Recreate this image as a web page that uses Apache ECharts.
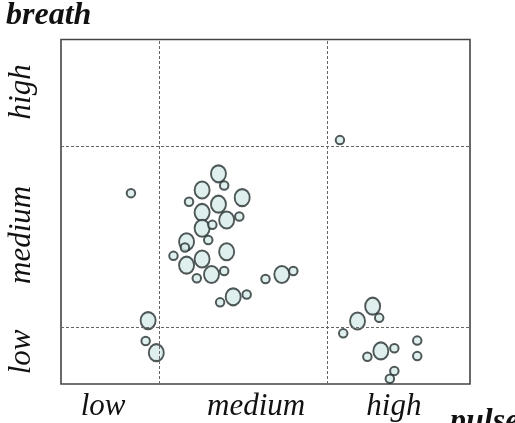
<!DOCTYPE html>
<html>
<head>
<meta charset="utf-8">
<script src="https://cdn.jsdelivr.net/npm/echarts@6/dist/echarts.min.js"></script>
<style>
  html, body { margin: 0; padding: 0; background: #fff; }
  #main { width: 515px; height: 423px; }
</style>
</head>
<body>
<div id="main"></div>
<script>
// scale: 0..100 on both axes, bands split at the cut values
const pulseLabels = ['low', 'medium', 'high'];
const pulseLabelPos = [10.3, 47.7, 81.4];
const pulseCuts = [24.0, 65.2];

const breathLabels = ['low', 'medium', 'high'];
const breathLabelPos = [9.3, 43.3, 84.8];
const breathCuts = [16.6, 69.0];

// big blobs [pulse, breath]
const bigPoints = [
  [38.5, 61.0], [34.5, 56.3], [44.3, 54.1], [38.5, 52.2], [34.5, 49.8],
  [40.5, 47.6], [34.5, 45.2], [30.7, 41.3], [40.5, 38.4], [34.5, 36.3],
  [30.7, 34.5], [36.8, 31.8], [54.0, 31.8], [42.1, 25.3], [21.3, 18.4],
  [23.3, 9.1], [76.2, 22.6], [72.5, 18.3], [78.2, 9.6]
];

// small circles [pulse, breath]
const smallPoints = [
  [39.9, 57.6], [31.3, 52.9], [43.6, 48.6], [37.0, 46.2], [36.0, 41.8],
  [30.3, 39.6], [27.5, 37.2], [39.9, 32.8], [33.2, 30.7], [50.0, 30.5],
  [56.8, 32.8], [45.4, 26.0], [38.9, 23.7], [17.1, 55.4], [68.2, 70.8],
  [20.7, 12.5], [77.8, 19.2], [69.0, 14.7], [81.5, 10.4], [74.9, 7.9],
  [87.1, 12.6], [87.1, 8.1], [81.5, 3.8], [80.4, 1.5]
];

const labelFont = {
  fontFamily: '"Liberation Serif", serif',
  fontStyle: 'italic',
  fontSize: 31,
  color: '#111'
};

const markerStyle = {
  color: '#d6ebe8',
  borderColor: '#263030',
  borderWidth: 2
};

var myChart = echarts.init(document.getElementById('main'));

myChart.setOption({
  animation: false,
  grid: {
    left: 61, right: 45, top: 39.5, bottom: 39,
    show: true,
    borderColor: '#444',
    borderWidth: 1.6,
    backgroundColor: 'transparent'
  },
  xAxis: {
    type: 'value', min: 0, max: 100,
    axisLine: { show: false },
    axisTick: { show: false },
    splitLine: { show: false },
    axisLabel: Object.assign({
      customValues: pulseLabelPos,
      margin: 7,
      formatter: (v) => pulseLabels[pulseLabelPos.indexOf(v)]
    }, labelFont)
  },
  yAxis: {
    type: 'value', min: 0, max: 100,
    axisLine: { show: false },
    axisTick: { show: false },
    splitLine: { show: false },
    axisLabel: Object.assign({
      customValues: breathLabelPos,
      rotate: 90,
      margin: 24,
      formatter: (v) => breathLabels[breathLabelPos.indexOf(v)]
    }, labelFont)
  },
  graphic: [
    {
      type: 'text', x: 6, y: 0,
      style: { text: 'breath', font: 'bold italic 32px "Liberation Serif"', fill: '#111' }
    },
    {
      type: 'text', x: 450, y: 406,
      style: { text: 'pulse', font: 'bold italic 32px "Liberation Serif"', fill: '#111' }
    }
  ],
  series: [
    {
      name: 'big',
      type: 'scatter',
      data: bigPoints,
      symbol: 'circle',
      symbolSize: [15, 17],
      itemStyle: markerStyle,
      clip: false,
      markLine: {
        silent: true,
        symbol: 'none',
        label: { show: false },
        lineStyle: { type: [3, 2], color: '#666', width: 1 },
        data: pulseCuts.map(v => ({ xAxis: v })).concat(breathCuts.map(v => ({ yAxis: v })))
      }
    },
    {
      name: 'small',
      type: 'scatter',
      data: smallPoints,
      symbol: 'circle',
      symbolSize: 8.5,
      itemStyle: markerStyle,
      clip: false
    }
  ]
});
</script>
</body>
</html>
